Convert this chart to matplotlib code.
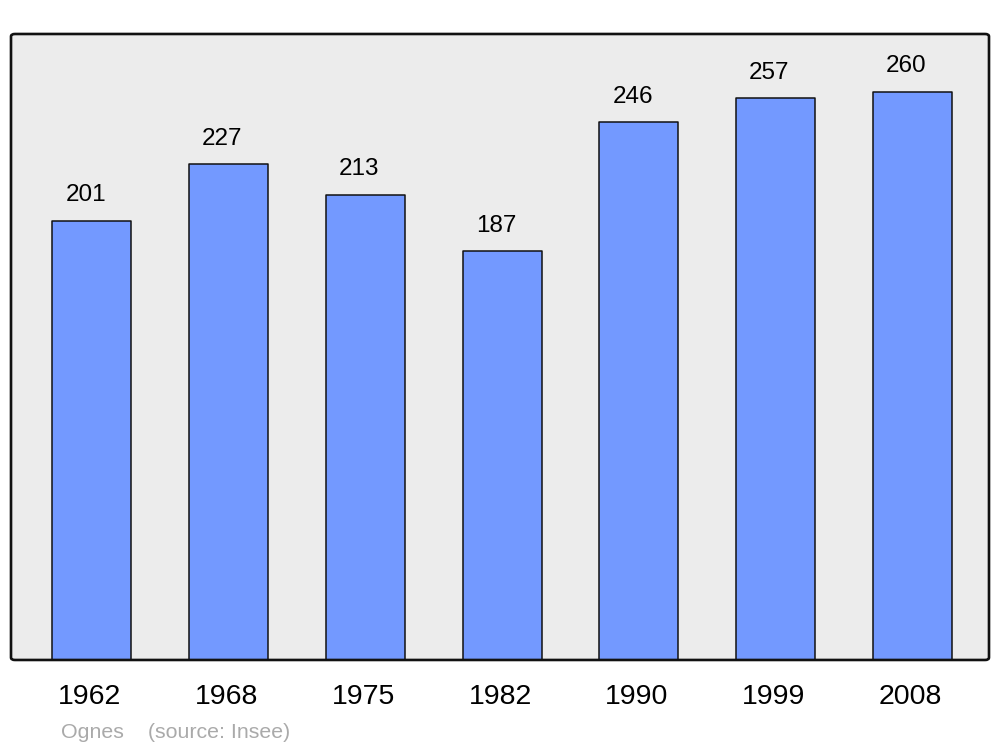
import matplotlib
matplotlib.use("Agg")
import matplotlib.pyplot as plt
import matplotlib.transforms as mtransforms
from matplotlib.patches import FancyBboxPatch

plt.rcParams['font.family'] = ['Liberation Sans', 'DejaVu Sans']

years = ['1962', '1968', '1975', '1982', '1990', '1999', '2008']
population = [201, 227, 213, 187, 246, 257, 260]
commune = 'Ognes'
source = '(source: Insee)'

fig = plt.figure(figsize=(10, 7.47), dpi=100)
ax = fig.add_axes([0.011, 0.1165, 0.978, 0.838])
ax.patch.set_visible(False)
for s in ax.spines.values():
    s.set_visible(False)

# rounded frame, background + outline on top
bg = FancyBboxPatch((0, 0), 1, 1, boxstyle='round,pad=0,rounding_size=0.004',
                    transform=ax.transAxes, facecolor='#ececec', edgecolor='none',
                    zorder=0, clip_on=False)
ax.add_patch(bg)
frame = FancyBboxPatch((0, 0), 1, 1, boxstyle='round,pad=0,rounding_size=0.004',
                       transform=ax.transAxes, facecolor='none', edgecolor='#111111',
                       linewidth=1.9, zorder=5, clip_on=False)
ax.add_patch(frame)

x = range(len(years))
bars = ax.bar(x, population, width=0.578, color='#7399ff', edgecolor='#111111',
              linewidth=1.1, zorder=2)
for b in bars:
    b.set_joinstyle('round')

for xi, v in zip(x, population):
    ax.annotate(str(v), (xi, v), xytext=(-4.5, 14), textcoords='offset points',
                ha='center', va='baseline', fontsize=17.5, color='black')

ax.set_xlim(-0.592, 6.56)
ax.set_ylim(0, 286.5)
ax.set_xticks(list(x))
ax.set_xticklabels(years, fontsize=20.5)
ax.tick_params(axis='x', length=0, pad=17)
ax.set_yticks([])
shift = mtransforms.ScaledTranslation(-2 / 100, 0, fig.dpi_scale_trans)
for lbl in ax.get_xticklabels():
    lbl.set_transform(lbl.get_transform() + shift)

fig.text(0.061, 1 - 738 / 747, commune + '    ' + source, fontsize=15.4,
         color='#aaaaaa', ha='left', va='baseline')

fig.savefig('out.png', dpi=100)
